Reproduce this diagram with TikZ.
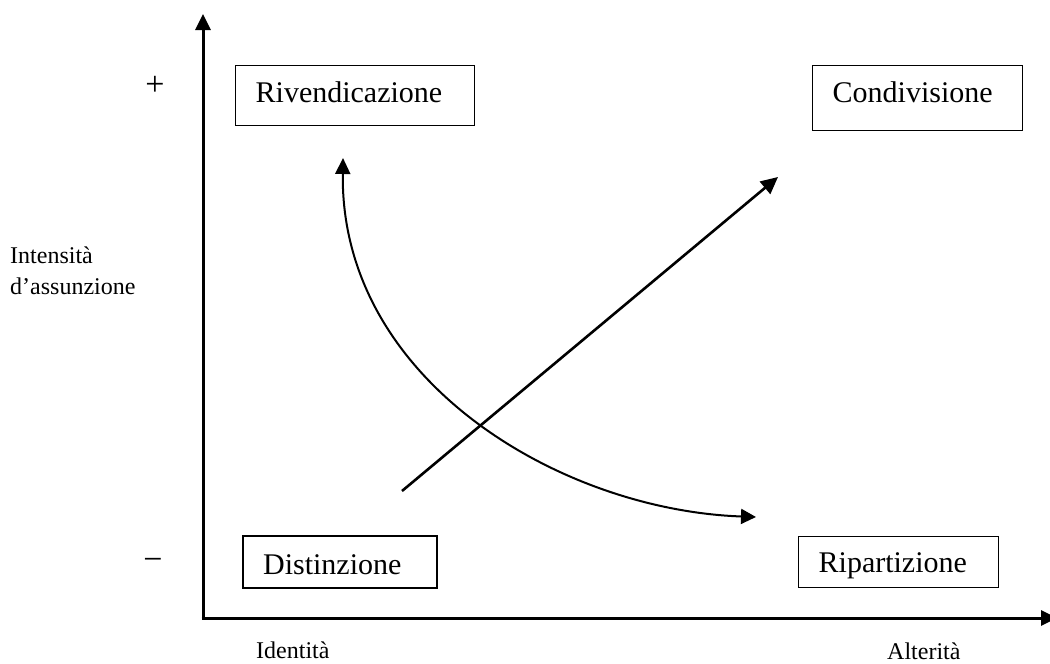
\documentclass[tikz,border=0pt]{standalone}
\usepackage{fontspec}
\setmainfont{Liberation Serif}
\usetikzlibrary{arrows.meta}
\begin{document}
\begin{tikzpicture}[x=1pt,y=-1pt,
  quadbox/.style={draw, line width=1.3pt, inner xsep=20pt, inner ysep=0pt, align=left,
    anchor=north west, text depth=0pt, font=\fontsize{30}{36}\selectfont},
  axislabel/.style={inner sep=0pt, anchor=base west, font=\fontsize{24}{30}\selectfont},
  signlabel/.style={inner sep=0pt, font=\fontsize{34}{40}\selectfont},
  axisline/.style={line width=3pt, -{Triangle[length=16pt,width=15pt]}},
  trend/.style={line width=2.6pt, -{Triangle[length=17pt,width=16pt]}},
  swing/.style={line width=2pt, {Triangle[length=16pt,width=15pt]}-{Triangle[length=15pt,width=15pt]}}]
  \useasboundingbox (0,0) rectangle (1050,664);

  % axes
  \coordinate (origin) at (203,618);
  \coordinate (ytip) at (203,14);
  \coordinate (xtip) at (1057,618);
  \draw[axisline] (origin) -- (ytip);
  \draw[axisline] ([xshift=-1.5pt]origin) -- (xtip);

  % quadrant boxes
  \node[quadbox, text width=199pt, text height=14pt, minimum height=60pt] (riv) at (235,65) {Rivendicazione};
  \node[quadbox, text width=170pt, text height=9pt, minimum height=65pt] (cond) at (812,65) {Condivisione};
  \node[quadbox, line width=2.2pt, text width=154pt, text height=24pt, minimum height=52pt] (dist) at (242,535) {Distinzione};
  \node[quadbox, text width=160pt, text height=21pt, minimum height=51pt] (rip) at (798,536) {Ripartizione};

  % signs and axis labels
  \node[signlabel] (plus) at (155,86) {+};
  \node[signlabel] (minus) at (153,564) {−};
  \node[axislabel] (int1) at (10,263) {Intensità};
  \node[axislabel] (int2) at (10,294) {d’assunzione};
  \node[axislabel] (ident) at (256,658) {Identità};
  \node[axislabel] (alter) at (887,659) {Alterità};

  % arrows between the quadrants
  \coordinate (tstart) at (402,491);
  \coordinate (tend) at (778,177);
  \draw[trend] (tstart) -- (tend);

  \coordinate (sup) at (343,158);
  \coordinate (sdown) at (756,517);
  \draw[swing] (sup) .. controls (340,380) and (560,510) .. (sdown);
\end{tikzpicture}
\end{document}
